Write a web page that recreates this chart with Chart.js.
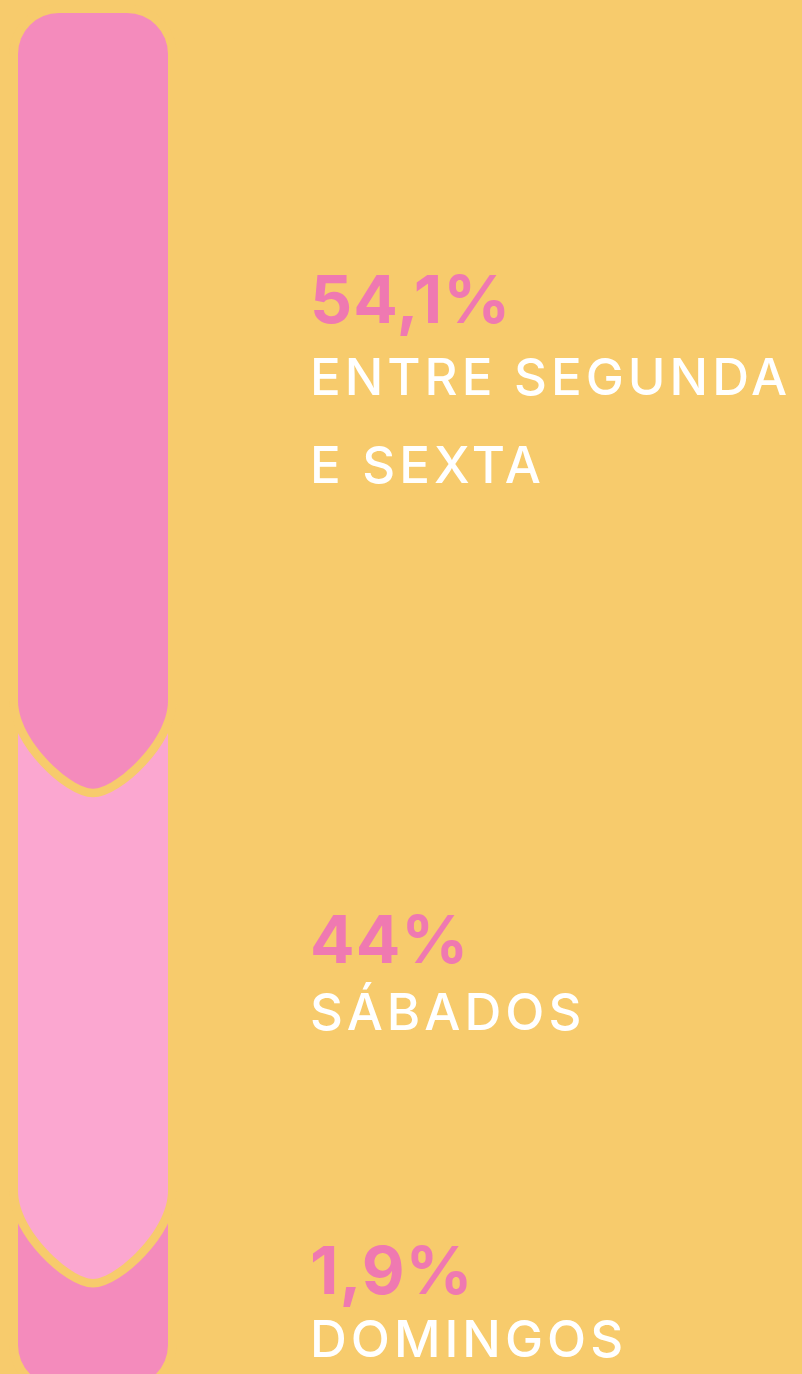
<!DOCTYPE html>
<html>
<head>
<meta charset="utf-8">
<script src="https://cdn.jsdelivr.net/npm/chart.js@4/dist/chart.umd.min.js"></script>
<style>
  html, body { margin: 0; padding: 0; background: #F7CB6C; overflow: hidden; }
  #wrap { position: absolute; left: 0; top: 0; width: 802px; height: 1386px; }
</style>
</head>
<body>
<div id="wrap"><canvas id="days"></canvas></div>
<script>
const categories = [["ENTRE SEGUNDA", "E SEXTA"], ["SÁBADOS"], ["DOMINGOS"]];
const shares = [54.1, 44, 1.9];
// the poster does not draw the bar to scale: length of each piece as measured off it (% of bar)
const drawnSpan = [50.1, 35.7, 14.2];
const colors = ["#F48BBC", "#FBA7D0", "#F48BBC"];

const BG = "#F7CB6C";
const PINK_TEXT = "#EF79B1";

// layout of the text blocks (baselines, px)
const numBase = [323, 963, 1294];
const wordBase = [395, 1030, 1357];
const lineGap = 88;
const textX = 310;

// draws each piece as a capsule with a pointed bottom, last piece first
const pieces = {
  id: "pieces",
  beforeDatasetDraw: () => false,
  afterDatasetsDraw(chart) {
    const ctx = chart.ctx;
    const n = chart.data.datasets.length;
    const r = 41, depth = 88, overlap = 30;
    for (let i = n - 1; i >= 0; i--) {
      const el = chart.getDatasetMeta(i).data[0];
      const l = el.x - el.width / 2, rt = el.x + el.width / 2, cx = el.x;
      const hw = el.width / 2;
      let top = Math.min(el.y, el.base);
      const bot = Math.max(el.y, el.base);
      ctx.save();
      ctx.beginPath();
      if (i === 0) {
        ctx.moveTo(l, top + r);
        ctx.arcTo(l, top, l + r, top, r);
        ctx.arcTo(rt, top, rt, top + r, r);
      } else {
        top -= overlap;
        ctx.moveTo(l, top);
        ctx.lineTo(rt, top);
      }
      if (i === n - 1) {
        ctx.arcTo(rt, bot, rt - r, bot, r);
        ctx.arcTo(l, bot, l, bot - r, r);
      } else {
        ctx.lineTo(rt, bot);
        ctx.bezierCurveTo(rt, bot + depth * 0.45, cx + hw * 0.3, bot + depth, cx, bot + depth);
        ctx.bezierCurveTo(cx - hw * 0.3, bot + depth, l, bot + depth * 0.45, l, bot);
      }
      ctx.closePath();
      ctx.lineWidth = 17;
      ctx.lineJoin = "round";
      ctx.strokeStyle = BG;
      ctx.stroke();
      ctx.fillStyle = colors[i];
      ctx.fill();
      ctx.restore();
    }
  },
  afterDraw(chart) {
    const ctx = chart.ctx;
    ctx.save();
    ctx.textAlign = "left";
    ctx.textBaseline = "alphabetic";
    shares.forEach((v, i) => {
      ctx.font = "700 66px Inter";
      ctx.letterSpacing = "1px";
      ctx.fillStyle = PINK_TEXT;
      ctx.fillText(v.toLocaleString("pt-BR") + "%", textX, numBase[i]);
      ctx.font = "500 51px Inter";
      ctx.letterSpacing = "4px";
      ctx.fillStyle = "#FFFFFF";
      categories[i].forEach((line, j) => {
        ctx.fillText(line, textX, wordBase[i] + j * lineGap);
      });
    });
    ctx.restore();
  }
};

new Chart(document.getElementById("days"), {
  type: "bar",
  data: {
    labels: ["dias"],
    datasets: drawnSpan.map((v, i) => ({
      label: categories[i].join(" "),
      data: [v],
      backgroundColor: colors[i],
      barThickness: 150
    }))
  },
  options: {
    responsive: true,
    maintainAspectRatio: false,
    animation: false,
    layout: { padding: { top: 13, left: 0, right: 616, bottom: 0 } },
    scales: {
      x: { stacked: true, display: false },
      y: { stacked: true, display: false, reverse: true, min: 0, max: 100 }
    },
    plugins: { legend: { display: false }, tooltip: { enabled: false } }
  },
  plugins: [pieces]
});
</script>
</body>
</html>
